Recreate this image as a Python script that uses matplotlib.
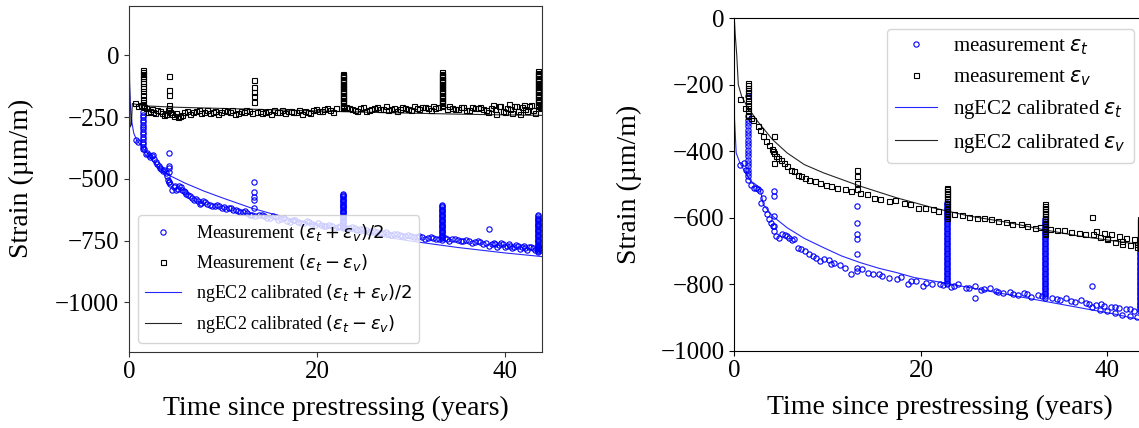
import numpy as np
import matplotlib
matplotlib.use("Agg")
import matplotlib.pyplot as plt

plt.rcParams['font.family'] = ['Liberation Serif', 'DejaVu Serif']
plt.rcParams['mathtext.fontset'] = 'dejavusans'

# ---------------- left panel: (et+ev)/2 and (et-ev) ----------------
# measured (et+ev)/2, main trend
t_sum = [0.7, 1.0, 1.8, 2.1, 2.4, 2.7, 3.0, 3.3, 3.6, 3.9, 4.1, 4.4, 4.6, 4.9, 5.2, 5.5,
         5.8, 6.1, 6.5, 6.9, 7.3, 7.7, 8.1, 8.6, 9.1, 9.6, 10.1, 10.6, 11.1, 11.6, 12.1,
         12.6, 13.1, 13.8, 14.4, 15.0, 15.6, 16.2, 16.8, 17.4, 18.0, 18.6, 19.2, 19.8,
         20.4, 21.0, 21.6, 22.2, 23.4, 24.0, 24.6, 25.2, 25.8, 26.4, 27.0, 27.6, 28.2,
         28.8, 29.4, 30.0, 30.6, 31.2, 31.8, 32.4, 33.0, 33.8, 34.4, 35.0, 35.6, 36.2,
         36.8, 37.4, 38.0, 38.6, 39.0, 39.4, 39.8, 40.2, 40.6, 41.0, 41.4, 41.8, 42.2,
         42.6, 43.0, 43.4, 43.8]
y_sum = [-342, -350, -400, -405, -408, -420, -440, -455, -470, -478, -505, -520, -545,
         -530, -540, -535, -550, -560, -570, -585, -590, -598, -595, -605, -608, -612,
         -615, -618, -625, -630, -635, -640, -645, -648, -652, -660, -655, -662, -670,
         -668, -673, -678, -675, -685, -688, -690, -692, -695, -698, -700, -705, -708,
         -712, -715, -720, -722, -725, -728, -730, -733, -735, -737, -738, -740, -742,
         -745, -745, -748, -750, -752, -755, -757, -760, -762, -765, -768, -765, -770,
         -772, -775, -772, -778, -780, -776, -782, -785, -788]
t_sum2 = [1.6, 1.95, 2.25, 2.55, 2.85, 3.15, 3.45, 3.75, 4.0, 4.25, 4.75, 5.05, 5.35,
          5.65, 5.95, 6.3, 6.7, 7.1, 7.5, 7.9, 8.35, 8.85, 9.35, 9.85, 10.35, 10.85,
          11.35, 11.85, 12.35, 12.85, 13.45, 14.1, 14.7, 15.3, 15.9, 16.5, 17.1, 17.7,
          18.3, 18.9, 19.5, 20.1, 20.7, 21.3, 21.9, 22.5, 23.1, 23.7, 24.3, 24.9, 25.5,
          26.1, 26.7, 27.3, 27.9, 28.5, 29.1, 29.7, 30.3, 30.9, 31.5, 32.1, 32.7, 33.6,
          34.1, 34.7, 35.3, 35.9, 36.5, 37.1, 37.7]
y_sum2 = [-380, -395, -412, -405, -430, -448, -462, -465, -490, -512, -535, -545, -528,
          -545, -555, -565, -578, -582, -600, -590, -600, -610, -604, -618, -622, -620,
          -628, -636, -632, -645, -650, -645, -658, -650, -665, -660, -675, -665, -680,
          -672, -682, -680, -692, -686, -698, -690, -700, -695, -708, -702, -715, -710,
          -720, -716, -726, -722, -732, -727, -736, -732, -742, -735, -745, -740, -750,
          -744, -753, -748, -758, -752, -762]
# dense late readings (et+ev)/2
t_sum_late = [38.3, 38.8, 39.2, 39.6, 40.0, 40.4, 40.8, 41.2, 41.6, 42.0, 42.4, 42.8, 43.2, 43.6]
y_sum_late = [-770, -758, -775, -760, -778, -765, -782, -768, -785, -770, -788, -775, -790, -780]
# repeated readings at single dates (et+ev)/2
t_sum_cols = [1.45, 4.3, 13.3, 22.8, 33.3, 43.5, 38.3]
y_sum_cols = [
    [-230, -240, -250, -260, -270, -280, -290, -300, -310, -320, -330, -340, -350, -360,
     -370, -380],
    [-396, -447, -457, -471, -511],
    [-514, -552, -572, -586, -620],
    [-560, -565, -570, -575, -580, -585, -590, -595, -600, -605, -610, -615, -620, -625,
     -630, -635, -640, -645, -650, -655, -660, -665, -670, -675, -680, -685, -690, -695,
     -700],
    [-606, -611, -616, -621, -626, -631, -636, -641, -646, -651, -656, -661, -666, -671,
     -676, -681, -686, -691, -696, -701, -706, -711, -716, -721, -726, -731, -736, -741,
     -746],
    [-647, -652, -657, -662, -667, -672, -677, -682, -687, -692, -697, -702, -707, -712,
     -717, -722, -727, -732, -737, -742, -747, -752, -757, -762, -767, -772, -777, -782,
     -787, -792, -796],
    [-705],
]

# measured (et-ev), main trend
t_dif = [0.6, 1.0, 1.8, 2.2, 2.6, 3.0, 3.5, 3.9, 4.4, 4.8, 5.2, 5.6, 6.2, 6.8, 7.4, 8.0,
         8.6, 9.2, 9.8, 10.4, 11.0, 11.6, 12.2, 12.8, 13.6, 14.2, 14.8, 15.4, 16.0, 16.6,
         17.2, 17.8, 18.4, 19.0, 19.6, 20.2, 20.8, 21.4, 22.0, 23.4, 24.0, 24.6, 25.2,
         25.8, 26.4, 27.0, 27.6, 28.2, 28.8, 29.4, 30.0, 30.6, 31.2, 31.8, 32.4, 32.9,
         33.8, 34.4, 35.0, 35.6, 36.2, 36.8, 37.4, 38.0, 38.5, 39.0, 39.4, 39.8, 40.2,
         40.6, 41.0, 41.4, 41.8, 42.2, 42.6, 43.0, 43.8]
y_dif = [-193, -205, -215, -225, -230, -222, -232, -238, -228, -245, -250, -240, -225,
         -230, -220, -228, -232, -225, -230, -226, -222, -232, -228, -224, -230, -235,
         -226, -222, -228, -232, -224, -228, -236, -230, -222, -226, -218, -222, -214,
         -212, -220, -215, -224, -218, -210, -216, -222, -213, -218, -212, -220, -214,
         -208, -215, -204, -210, -218, -212, -216, -210, -220, -214, -208, -222, -212,
         -218, -205, -225, -212, -218, -206, -224, -210, -216, -204, -222, -215]
t_dif2 = [1.3, 1.6, 2.0, 2.4, 2.8, 3.25, 3.7, 4.15, 4.6, 5.0, 5.4, 5.9, 6.5, 7.1, 7.7,
          8.3, 8.9, 9.5, 10.1, 10.7, 11.3, 11.9, 12.5, 13.1, 13.9, 14.5, 15.1, 15.7,
          16.3, 16.9, 17.5, 18.1, 18.7, 19.3, 19.9, 20.5, 21.1, 21.7, 23.1, 23.7, 24.3,
          24.9, 25.5, 26.1, 26.7, 27.3, 27.9, 28.5, 29.1, 29.7, 30.3, 30.9, 31.5, 32.1,
          32.6, 34.1, 34.7, 35.3, 35.9, 36.5, 37.1, 37.7]
y_dif2 = [-200, -210, -228, -218, -235, -226, -240, -222, -236, -232, -244, -228, -236,
          -224, -232, -220, -228, -236, -222, -230, -236, -226, -220, -232, -224, -230,
          -236, -228, -222, -226, -230, -220, -226, -232, -218, -224, -214, -228, -208,
          -218, -226, -210, -220, -212, -218, -206, -216, -224, -210, -218, -206, -216,
          -210, -220, -212, -206, -218, -210, -222, -208, -214, -218]
t_dif_late = [38.2, 38.7, 39.1, 39.5, 40.0, 40.4, 40.8, 41.2, 41.6, 42.0, 42.4, 42.8, 43.2, 43.7]
y_dif_late = [-230, -200, -236, -205, -228, -198, -232, -206, -238, -202, -226, -200, -234, -210]
t_dif_cols = [1.45, 4.3, 13.3, 22.8, 33.3, 43.5]
y_dif_cols = [
    [-58, -66, -74, -82, -92, -102, -112, -122, -134, -146, -160, -175, -190, -200, -207],
    [-83, -142, -160, -200, -214],
    [-99, -128, -150, -166, -187],
    [-74, -79, -84, -89, -94, -99, -104, -109, -114, -119, -124, -129, -134, -139, -144,
     -149, -154, -159, -164, -169, -174, -179, -184, -189, -194, -199, -204, -209, -214],
    [-69, -74, -79, -84, -89, -94, -99, -104, -109, -114, -119, -124, -129, -134, -139,
     -144, -149, -154, -159, -164, -169, -174, -179, -184, -189, -194, -199, -204, -207],
    [-65, -70, -75, -80, -85, -90, -95, -100, -105, -110, -115, -120, -125, -130, -135,
     -140, -145, -150, -155, -160, -165, -170, -175, -180, -185, -190, -195, -200, -207],
]

# ngEC2 calibrated curves, left
t_fit_sum = [0, 0.05, 0.15, 0.3, 0.5, 0.8, 1.2, 1.7, 2.5, 3.3, 4.5, 6, 8, 10, 13, 16, 20,
             25, 30, 35, 40, 44]
y_fit_sum = [0, -120, -210, -270, -315, -342, -362, -385, -425, -460, -490, -518, -550,
             -578, -618, -650, -688, -722, -752, -778, -800, -815]
t_fit_dif = [0, 0.12, 0.25, 0.35, 1, 2, 5, 10, 15, 20, 25, 30, 35, 40, 44]
y_fit_dif = [110, -290, -280, -195, -200, -205, -210, -215, -220, -225, -230, -234, -238,
             -241, -243]

# ---------------- right panel: et and ev ----------------
t_et = [0.6, 1.0, 1.76, 2.1, 2.5, 2.9, 3.3, 3.7, 4.1, 4.5, 5.1, 5.66, 6.4, 7.2, 8.0,
        8.8, 9.6, 10.7, 11.9, 13.1, 14.3, 15.8, 17.4, 18.9, 20.5, 22.0, 23.6, 25.2,
        26.75, 28.3, 29.9, 31.4, 33.0, 34.6, 36.1, 37.7, 39.3, 40.8, 42.4, 43.5]
y_et = [-440, -435, -500, -510, -515, -555, -575, -605, -625, -655, -650, -655, -665,
        -695, -710, -720, -725, -735, -750, -760, -765, -775, -785, -790, -795, -800,
        -805, -810, -815, -823, -830, -830, -835, -845, -850, -855, -860, -870, -875, -880]
t_et2 = [1.3, 2.3, 2.7, 3.1, 3.5, 3.9, 4.3, 4.8, 5.4, 5.9, 6.2, 6.8, 7.6, 8.4, 9.2, 10.1,
         10.4, 11.3, 12.5, 13.7, 14.9, 15.5, 16.6, 17.9, 18.6, 19.5, 20.2, 21.2, 22.4,
         23.2, 24.0, 24.8, 25.8, 26.4, 27.4, 28.0, 28.8, 29.5, 30.4, 31.0, 31.8, 32.5,
         34.0, 34.9, 35.6, 36.5, 37.2, 38.0]
y_et2 = [-455, -512, -520, -540, -590, -615, -640, -660, -652, -660, -668, -690, -700,
         -715, -730, -728, -740, -742, -770, -755, -770, -768, -780, -778, -800, -790,
         -805, -798, -802, -808, -800, -812, -805, -818, -812, -820, -826, -822, -832,
         -826, -838, -832, -840, -848, -842, -852, -848, -858]
t_et_late = [38.3, 38.8, 39.2, 39.6, 40.0, 40.4, 40.8, 41.2, 41.6, 42.0, 42.4, 42.8, 43.2]
y_et_late = [-870, -862, -878, -866, -882, -868, -888, -872, -892, -876, -895, -880, -898]
t_et_cols = [1.5, 4.3, 13.2, 22.8, 33.3, 43.5, 38.3, 25.8]
y_et_cols = [
    [-235, -295, -305, -315, -325, -335, -345, -355, -365, -375, -385, -395, -405, -415,
     -425, -435, -445, -455, -465, -475, -485],
    [-520, -535, -595, -625],
    [-565, -615, -650, -665, -710, -750],
    [-555, -560, -565, -570, -575, -580, -585, -590, -595, -600, -605, -610, -615, -620,
     -625, -630, -635, -640, -645, -650, -655, -660, -665, -670, -675, -680, -685, -690,
     -695, -700, -705, -710, -715, -720, -725, -730, -735, -740, -745, -750, -755, -760,
     -765, -770, -775, -780, -785, -790, -795, -800],
    [-605, -610, -615, -620, -625, -630, -635, -640, -645, -650, -655, -660, -665, -670,
     -675, -680, -685, -690, -695, -700, -705, -710, -715, -720, -725, -730, -735, -740,
     -745, -750, -755, -760, -765, -770, -775, -780, -785, -790, -795, -800, -805, -810,
     -815, -820, -825, -830, -835, -840],
    [-665, -670, -675, -680, -685, -690, -695, -700, -705, -710, -715, -720, -725, -730,
     -735, -740, -745, -750, -755, -760, -765, -770, -775, -780, -785, -790, -795, -800,
     -805, -810, -815, -820, -825, -830, -835, -840, -845, -850, -855, -860, -865, -870,
     -875],
    [-805],
    [-840],
]

t_ev = [0.6, 1.76, 2.5, 3.1, 3.7, 4.1, 4.5, 5.3, 6.05, 6.8, 8.0, 9.2, 10.35, 11.9, 13.5,
        15.0, 16.6, 18.2, 19.7, 21.3, 22.85, 24.4, 26.0, 27.5, 29.1, 30.7, 32.2, 33.8,
        35.35, 36.9, 38.5, 40.0, 41.6, 43.2]
y_ev = [-243, -300, -325, -355, -380, -400, -415, -435, -455, -470, -485, -495, -505,
        -515, -525, -540, -550, -555, -570, -575, -585, -593, -600, -605, -613, -620,
        -630, -633, -637, -645, -650, -660, -670, -680]
t_ev2 = [1.1, 2.0, 2.8, 3.4, 4.0, 4.7, 5.0, 5.6, 6.4, 7.2, 7.6, 8.6, 9.8, 11.0, 12.5,
         14.2, 15.6, 17.2, 18.8, 20.4, 21.8, 23.5, 25.2, 26.8, 28.3, 29.8, 31.4, 32.8,
         34.6, 36.1, 37.6]
y_ev2 = [-270, -305, -335, -370, -392, -420, -425, -445, -460, -475, -480, -490, -500,
         -510, -520, -530, -545, -548, -560, -572, -580, -590, -598, -602, -610, -618,
         -625, -628, -638, -642, -648]
t_ev_late = [38.8, 39.2, 39.6, 40.0, 40.4, 40.8, 41.2, 41.6, 42.0, 42.4, 42.8, 43.2]
y_ev_late = [-640, -658, -645, -665, -650, -672, -655, -678, -660, -682, -665, -688]
t_ev_cols = [1.5, 4.3, 13.2, 22.8, 33.3, 43.5, 38.3]
y_ev_cols = [
    [-195, -202, -209, -216, -223, -230, -240, -250, -260, -270, -280, -290, -295],
    [-353, -405, -435],
    [-455, -475, -495, -515],
    [-510, -515, -520, -525, -530, -535, -540, -545, -550, -555, -560, -565, -570, -575,
     -580, -585, -590, -595, -600],
    [-560, -565, -570, -575, -580, -585, -590, -595, -600, -605, -610, -615, -620, -625,
     -630, -635, -640, -645, -650],
    [-605, -610, -615, -620, -625, -630, -635, -640, -645, -650, -655, -660, -665, -670,
     -675, -680, -685, -690],
    [-598],
]

t_fit_et = [0, 0.02, 0.2, 0.6, 1.0, 1.76, 2.3, 2.7, 2.9, 3.1, 4.1, 5.66, 7.5, 9.57,
            11.5, 13.5, 15.5, 17.4, 19.3, 21.3, 25.2, 29.1, 33, 36.9, 40.8, 44]
y_fit_et = [0, -300, -405, -435, -455, -490, -500, -510, -530, -560, -595, -630, -662,
            -690, -715, -735, -752, -765, -780, -790, -810, -830, -850, -870, -890, -910]
t_fit_ev = [0, 0.1, 0.26, 0.43, 0.79, 1.37, 2.5, 4.1, 5.66, 7.5, 9.57, 13.5, 17.4, 21.3,
            25.2, 29.1, 33, 36.9, 40.8, 44]
y_fit_ev = [0, -50, -110, -200, -235, -265, -310, -365, -405, -440, -465, -505, -540,
            -570, -595, -613, -635, -655, -670, -682]


def stack(parts_t, parts_y, t_cols, y_cols):
    t_all, y_all = [], []
    for tp, yp in zip(parts_t, parts_y):
        t_all += list(tp)
        y_all += list(yp)
    for tc, yc in zip(t_cols, y_cols):
        t_all += [tc] * len(yc)
        y_all += yc
    return t_all, y_all


circ = dict(ls='none', marker='o', ms=3.8, mfc='none', mec='blue', mew=0.8)
sqr = dict(ls='none', marker='s', ms=3.6, mfc='none', mec='black', mew=0.8)

fig = plt.figure(figsize=(11.39, 4.28), dpi=100)
ax1 = fig.add_axes([0.1133, 0.1783, 0.3629, 0.8077])
ax2 = fig.add_axes([0.6447, 0.1806, 0.3604, 0.7766])

# left
ts, ys = stack([t_sum, t_sum2, t_sum_late], [y_sum, y_sum2, y_sum_late], t_sum_cols, y_sum_cols)
td, yd = stack([t_dif, t_dif2, t_dif_late], [y_dif, y_dif2, y_dif_late], t_dif_cols, y_dif_cols)
ax1.plot(ts, ys, label=r'Measurement $(\varepsilon_t + \varepsilon_v)/2$', **circ)
ax1.plot(td, yd, label=r'Measurement $(\varepsilon_t - \varepsilon_v)$', **sqr)
ax1.plot(t_fit_sum, y_fit_sum, color='blue', lw=0.8, alpha=0.85,
         label=r'ngEC2 calibrated $(\varepsilon_t + \varepsilon_v)/2$')
ax1.plot(t_fit_dif, y_fit_dif, color='black', lw=0.8, alpha=0.85,
         label=r'ngEC2 calibrated $(\varepsilon_t - \varepsilon_v)$')
ax1.set_xlim(0, 44)
ax1.set_ylim(-1200, 200)
ax1.set_yticks([0, -250, -500, -750, -1000])
ax1.set_xticks([0, 20, 40])
ax1.set_xlabel('Time since prestressing (years)', fontsize=20, labelpad=9)
ax1.set_ylabel('Strain (µm/m)', fontsize=20, labelpad=15)
ax1.tick_params(labelsize=18, color='#333333')
for s in ax1.spines.values():
    s.set_color('#333333')
ax1.legend(loc='lower left', fontsize=13)

# right
te, ye = stack([t_et, t_et2, t_et_late], [y_et, y_et2, y_et_late], t_et_cols, y_et_cols)
tv, yv = stack([t_ev, t_ev2, t_ev_late], [y_ev, y_ev2, y_ev_late], t_ev_cols, y_ev_cols)
ax2.plot(te, ye, label=r'measurement $\varepsilon_t$', **circ)
ax2.plot(tv, yv, label=r'measurement $\varepsilon_v$', **sqr)
ax2.plot(t_fit_et, y_fit_et, color='blue', lw=0.8, alpha=0.85,
         label=r'ngEC2 calibrated $\varepsilon_t$')
ax2.plot(t_fit_ev, y_fit_ev, color='black', lw=0.8, alpha=0.85,
         label=r'ngEC2 calibrated $\varepsilon_v$')
ax2.set_xlim(0, 44)
ax2.set_ylim(-1000, 0)
ax2.set_yticks([0, -200, -400, -600, -800, -1000])
ax2.set_xticks([0, 20, 40])
ax2.set_xlabel('Time since prestressing (years)', fontsize=20, labelpad=9)
ax2.set_ylabel('Strain (µm/m)', fontsize=20, labelpad=13)
ax2.tick_params(labelsize=18)
ax2.legend(loc='upper right', fontsize=15)

fig.savefig('out.png', dpi=100)
